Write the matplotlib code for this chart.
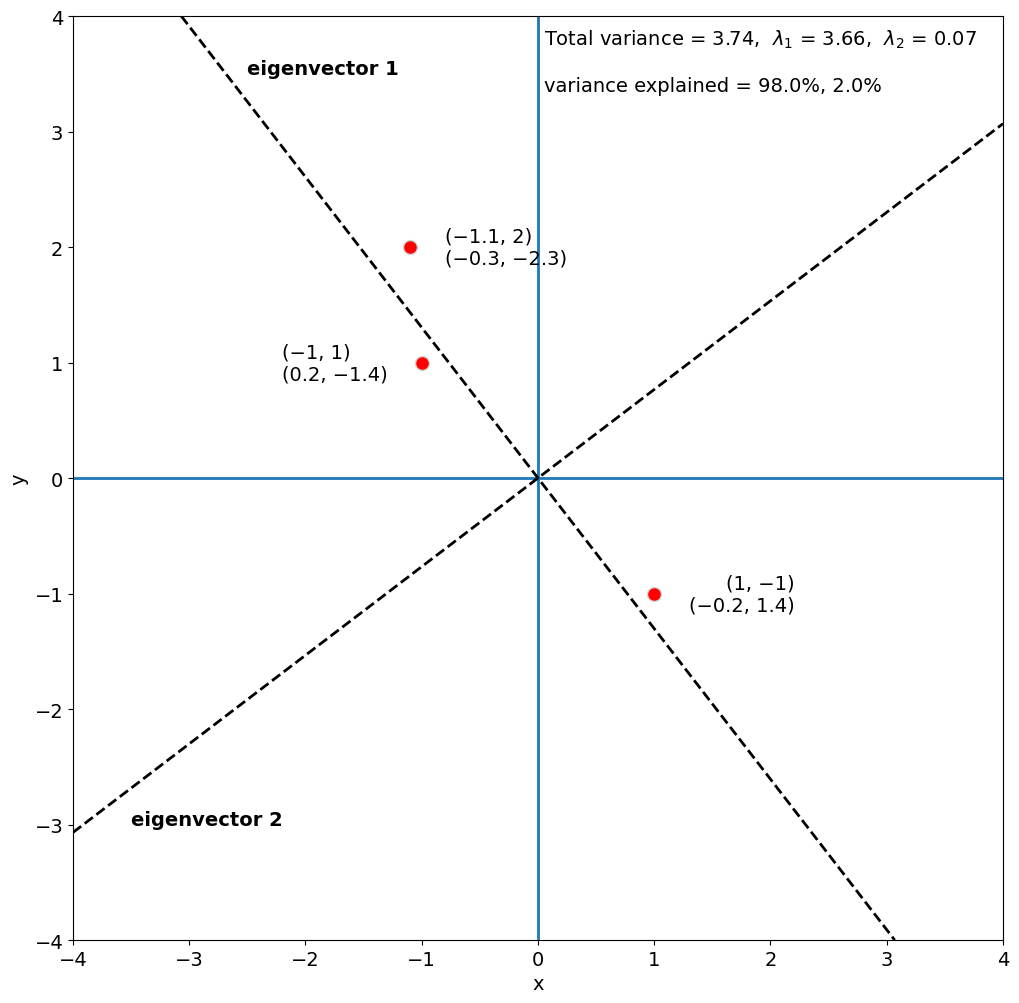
import matplotlib
matplotlib.use("Agg")
import matplotlib.pyplot as plt
import numpy as np

# data points
px = np.array([-1.1, -1.0, 1.0])
py = np.array([2.0, 1.0, -1.0])
labels = ["(\u22121.1, 2)\n(\u22120.3, \u22122.3)",
          "(\u22121, 1)\n(0.2, \u22121.4)",
          "(1, \u22121)\n(\u22120.2, 1.4)"]
label_dx = [0.3, -1.2, 0.3]

# PCA of the points
cov = np.cov(np.vstack([px, py]))
evals, evecs = np.linalg.eigh(cov)
order = np.argsort(evals)[::-1]
evals = evals[order]
evecs = evecs[:, order]
total = evals.sum()

plt.rcParams["font.size"] = 14
fig = plt.figure(figsize=(10.19, 10.04), dpi=100)
ax = fig.add_axes([0.0716, 0.0627, 0.9127, 0.9203])

ax.axhline(0, color="C0", lw=2)
ax.axvline(0, color="C0", lw=2)
for i in range(2):
    v = evecs[:, i]
    ax.axline((0, 0), slope=v[1] / v[0], color="k", ls="--", lw=2)

ax.plot(px, py, "o", color="red", markersize=10, markeredgecolor="lightgray", zorder=5)
for x, y, lab, dx in zip(px, py, labels, label_dx):
    ax.text(x + dx, y, lab, va="center", ha="left", multialignment="right" if dx > 0 and x > 0 else "left")

ax.text(-2.5, 3.5, "eigenvector 1", fontweight="bold")
ax.text(-3.5, -3.0, "eigenvector 2", fontweight="bold")
ax.text(0.05, 3.75, "Total variance = %.2f,  $\\lambda_1$ = %.2f,  $\\lambda_2$ = %.2f" % (total, evals[0], evals[1]))
ax.text(0.05, 3.35, "variance explained = %.1f%%, %.1f%%" % (100 * evals[0] / total, 100 * evals[1] / total))

ax.set_xlim(-4, 4)
ax.set_ylim(-4, 4)
ax.set_xlabel("x")
ax.set_ylabel("y")
fig.savefig("out.png")
